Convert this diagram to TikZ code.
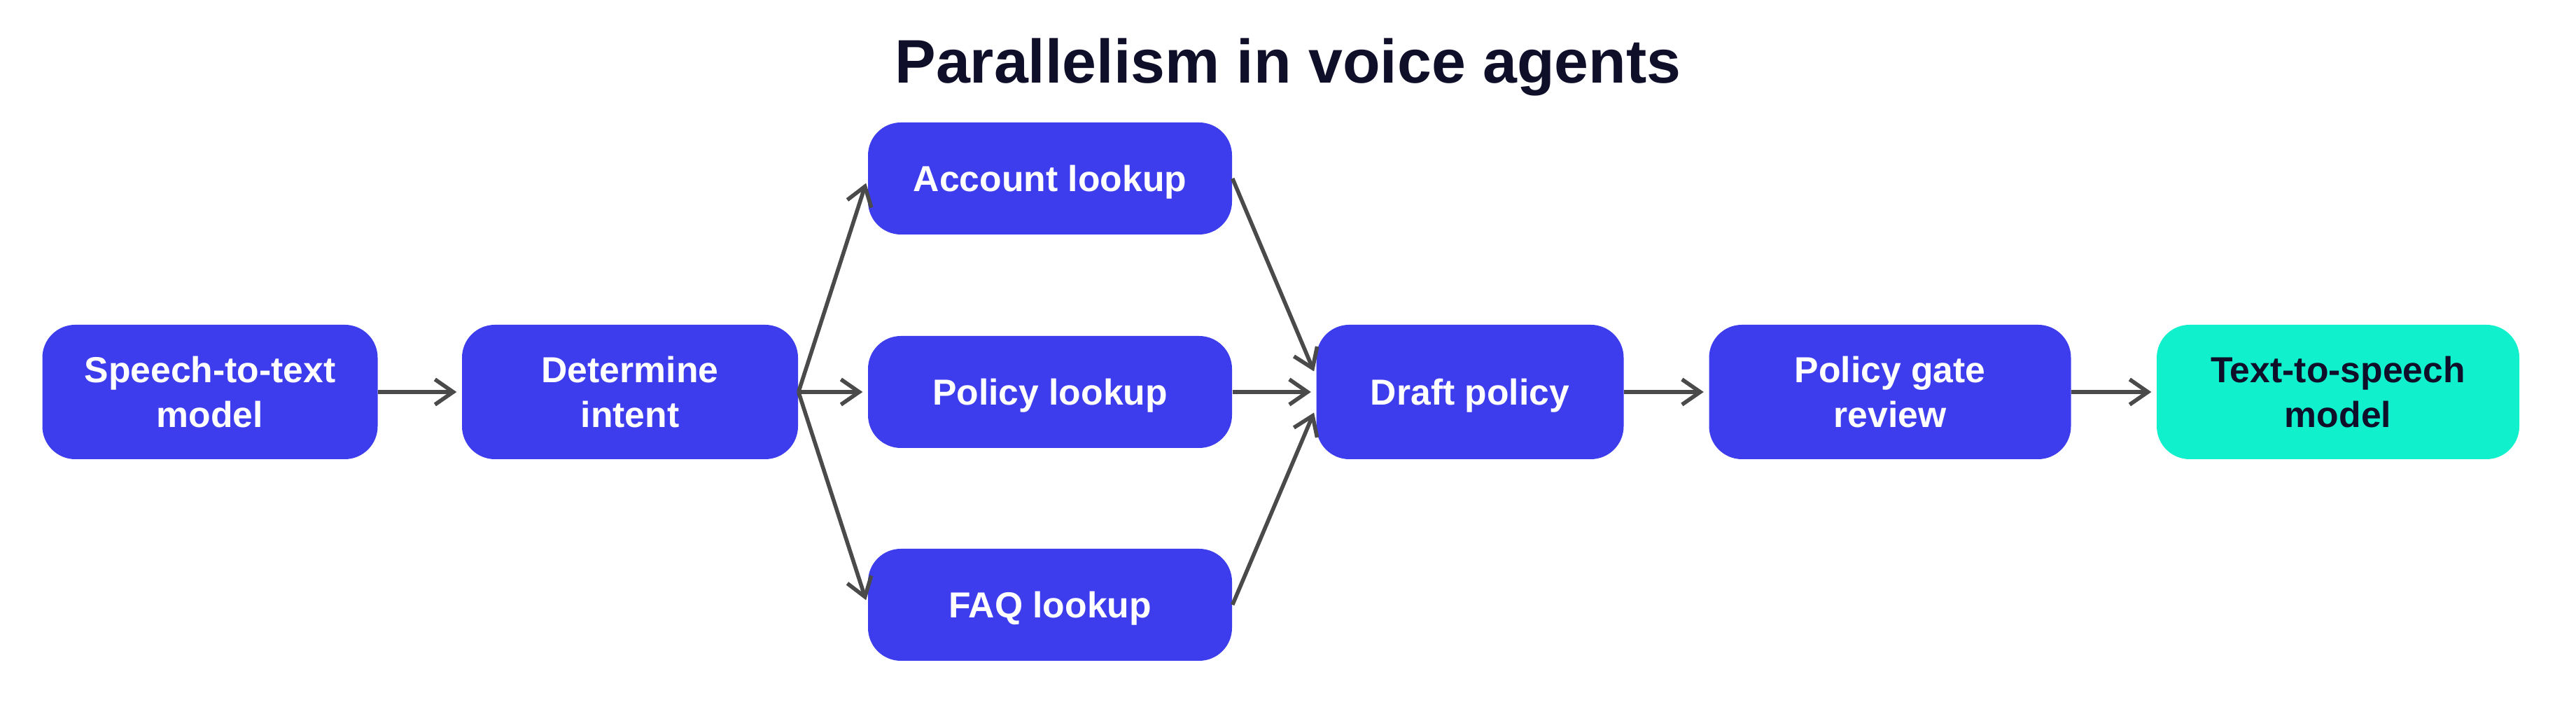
\documentclass[tikz,border=0pt]{standalone}
\usepackage{fontspec}
\setmainfont{Liberation Sans}
\usepackage{xcolor}
\usetikzlibrary{arrows.meta, positioning}
\definecolor{boxblue}{HTML}{3D3DED}
\definecolor{boxteal}{HTML}{10F0CC}
\definecolor{titleink}{HTML}{0F0F2A}
\definecolor{arrowgray}{HTML}{4A4A4A}

\begin{document}
\begin{tikzpicture}[
  proses/.style={rectangle, rounded corners=0.47cm, fill=boxblue, text=white,
    font=\fontsize{14.7}{18.2}\selectfont\bfseries, align=center,
    minimum height=1.92cm, inner sep=0pt, text depth=0pt},
  cari/.style={proses, minimum width=5.2cm, minimum height=1.6cm},
  panah/.style={draw=arrowgray, line width=1.6pt,
    -{Straight Barb[length=0.26cm,width=0.36cm]}, shorten >=0.07cm}
]
  \useasboundingbox (0,0) rectangle (36.8,10.4);

  % Judul
  \node[font=\fontsize{25}{30}\selectfont\bfseries, text=titleink, anchor=base]
    (judul) at (18.4,9.21) {Parallelism in voice agents};

  % Kotak proses
  \node[proses, minimum width=4.79cm] (stt) at (3.0,4.8) {Speech-to-text\\model};
  \node[proses, minimum width=4.8cm] (intent) at (9.0,4.8) {Determine\\intent};
  \node[cari] (akun) at (15.0,7.85) {Account lookup};
  \node[cari] (kebijakan) at (15.0,4.8) {Policy lookup};
  \node[cari] (faq) at (15.0,1.76) {FAQ lookup};
  \node[proses, minimum width=4.39cm] (draf) at (21.0,4.8) {Draft policy};
  \node[proses, minimum width=5.17cm] (gerbang) at (27.0,4.8) {Policy gate\\review};
  \node[proses, minimum width=5.18cm, fill=boxteal, text=titleink] (tts) at (33.4,4.8) {Text-to-speech\\model};

  % Panah
  \draw[panah] (stt.east) -- (intent.west);
  \foreach \n in {akun, kebijakan, faq} {
    \draw[panah] (intent.east) -- (\n.west);
  }
  \draw[panah] (akun.east) -- ([yshift=2.3mm]draf.west);
  \draw[panah] (kebijakan.east) -- (draf.west);
  \draw[panah] (faq.east) -- ([yshift=-2.3mm]draf.west);
  \draw[panah] (draf.east) -- (gerbang.west);
  \draw[panah] (gerbang.east) -- (tts.west);
\end{tikzpicture}
\end{document}
